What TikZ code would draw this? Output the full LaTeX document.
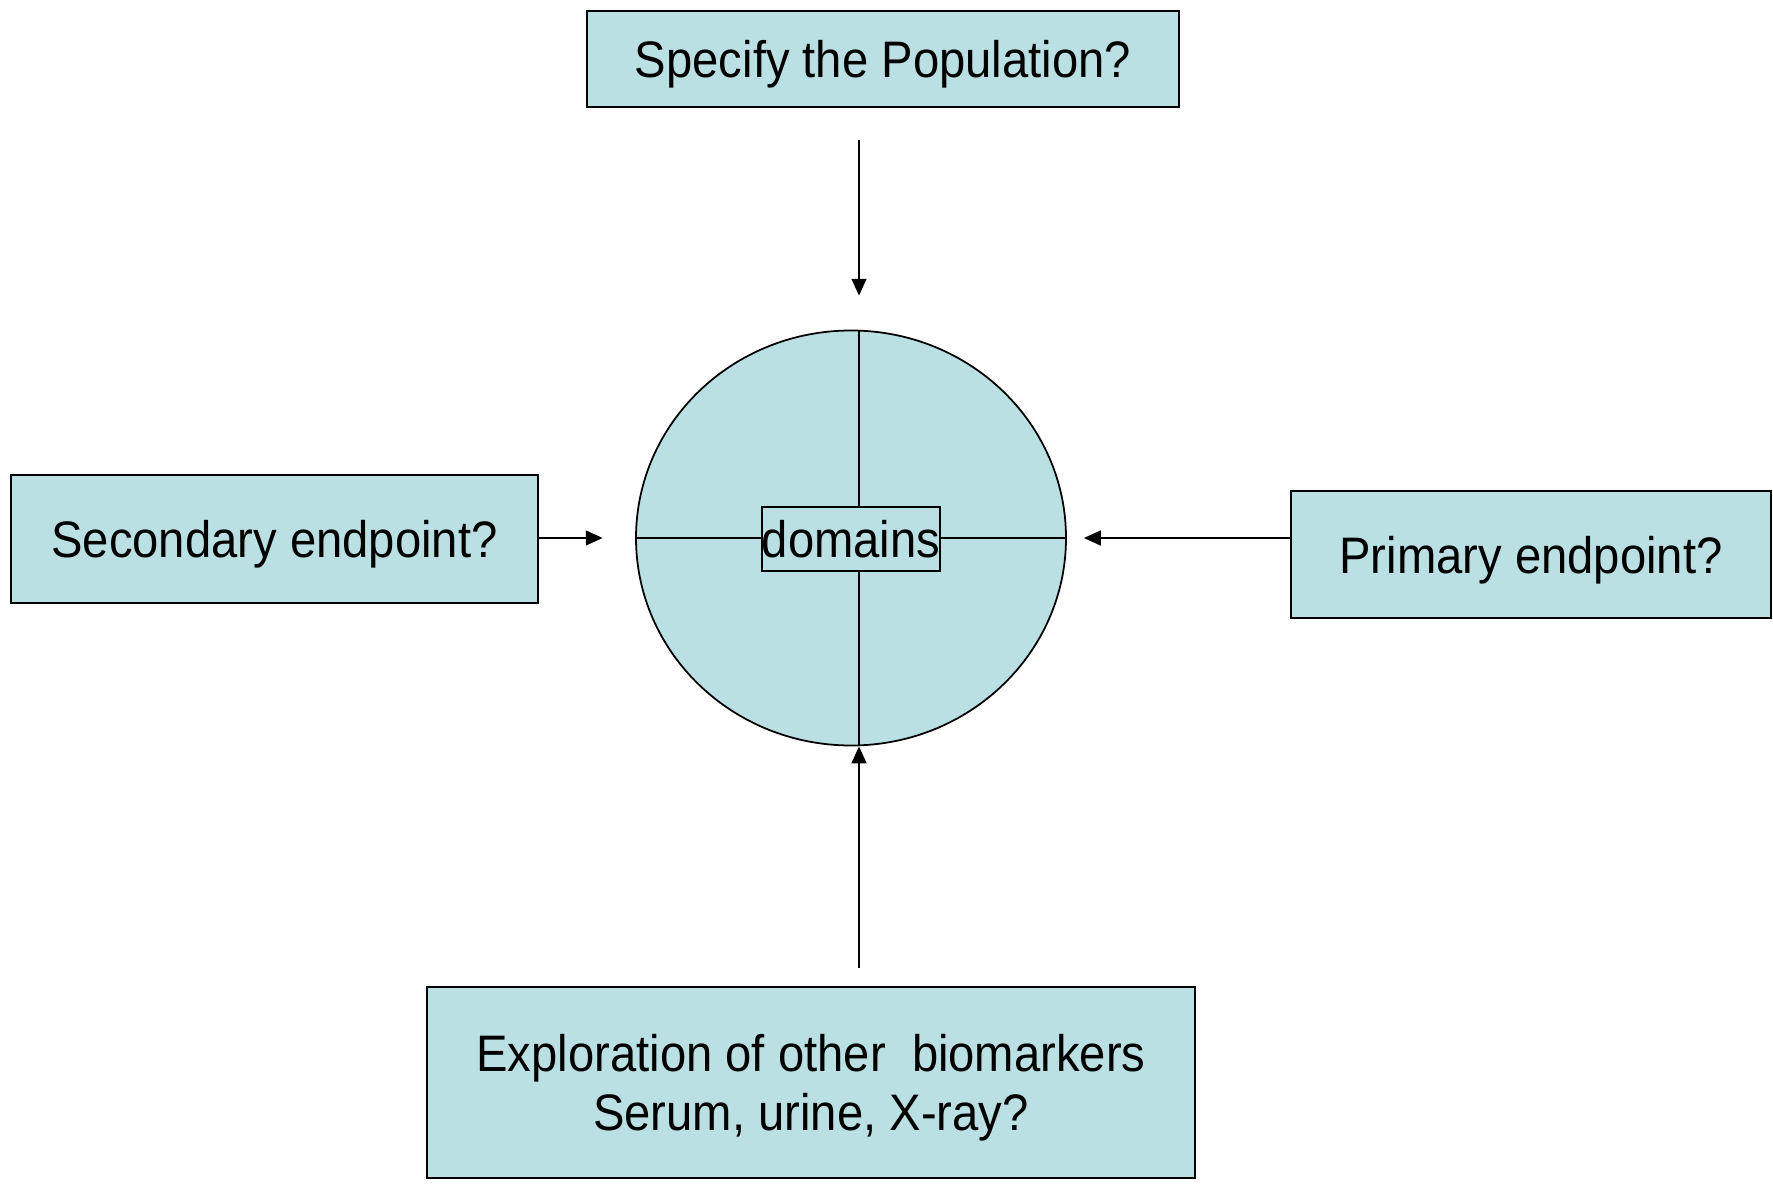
\documentclass[tikz,border=0pt]{standalone}
\usepackage{fontspec}
\setmainfont{Liberation Sans}[FakeStretch=0.92]
\usetikzlibrary{arrows.meta,shapes.geometric}
\definecolor{boxblue}{RGB}{187,224,227}
\begin{document}
\begin{tikzpicture}[
  box/.style={draw, fill=boxblue, line width=0.6pt, inner sep=0pt, align=center, text depth=0pt, font=\fontsize{14.6}{16.8}\selectfont},
  arr/.style={-{Triangle[length=4.8pt,width=4.2pt]}, line width=0.6pt}
]
\useasboundingbox (0,0) rectangle (17.73,-11.84);

\node[box, minimum width=5.92cm, minimum height=0.96cm] (pop) at (8.83,-0.59) {Specify the Population?};
\node[box, minimum width=5.27cm, minimum height=1.28cm] (sec) at (2.745,-5.39) {Secondary endpoint?};
\node[box, minimum width=4.80cm, minimum height=1.27cm] (pri) at (15.31,-5.545) {Primary endpoint?};
\node[box, minimum width=7.68cm, minimum height=1.91cm] (bio) at (8.11,-10.825) {Exploration of other\ \ biomarkers\\Serum, urine, X-ray?};

% the four domains
\node[draw, ellipse, fill=boxblue, line width=0.5pt, inner sep=0pt, minimum width=4.3cm, minimum height=4.15cm] (circ) at (8.51,-5.38) {};
\coordinate (axis) at (8.59,-5.38);
\draw[line width=0.6pt] (circ.west) -- (circ.east);
\draw[line width=0.6pt] (circ.north -| axis) -- (circ.south -| axis);
\node[box, minimum width=1.76cm, minimum height=0.64cm] (dom) at (8.51,-5.39) {domains};

\draw[arr, shorten <=0.32cm, shorten >=0.34cm] (pop.south -| axis) -- (circ.north -| axis);
\draw[arr, shorten <=0.18cm] (bio.north -| axis) -- (circ.south -| axis);
\draw[arr, shorten >=0.325cm] (sec.east |- circ) -- (circ.west);
\draw[arr, shorten >=0.17cm] (pri.west |- circ) -- (circ.east);
\end{tikzpicture}
\end{document}
